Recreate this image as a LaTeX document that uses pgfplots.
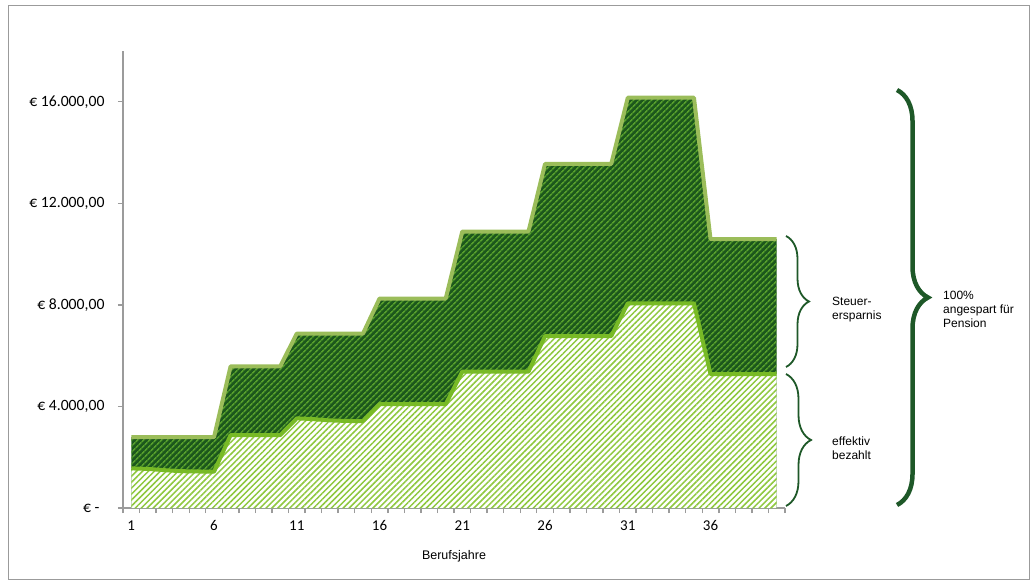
\documentclass[border=0pt]{standalone}
\usepackage{fontspec}
\setmainfont{Carlito}
\newfontfamily\arial{Liberation Sans}
\usepackage{pgfplots}
\usepackage{pgfplotstable}
\pgfplotsset{compat=1.18}
\usetikzlibrary{patterns.meta,decorations.pathreplacing}

\definecolor{axisgray}{RGB}{155,155,155}
\definecolor{darkfill}{RGB}{28,88,28}
\definecolor{darkhatch}{RGB}{86,158,44}
\definecolor{lighthatch}{RGB}{142,200,62}
\definecolor{midline}{RGB}{120,186,38}
\definecolor{topline}{RGB}{155,189,90}
\definecolor{bracegreen}{RGB}{30,88,40}

% Berufsjahr, Summe (100%), davon effektiv bezahlt
\pgfplotstableread{
year total paid
1  2790  1560
2  2790  1540
3  2790  1490
4  2790  1450
5  2790  1440
6  2790  1430
7  5580  2870
8  5580  2870
9  5580  2870
10 5580  2870
11 6870  3530
12 6870  3500
13 6870  3450
14 6870  3430
15 6870  3420
16 8250  4090
17 8250  4090
18 8250  4090
19 8250  4090
20 8250  4090
21 10890 5370
22 10890 5370
23 10890 5370
24 10890 5370
25 10890 5370
26 13550 6770
27 13550 6770
28 13550 6770
29 13550 6770
30 13550 6770
31 16160 8060
32 16160 8060
33 16160 8060
34 16160 8060
35 16160 8060
36 10590 5270
37 10590 5270
38 10590 5270
39 10590 5270
40 10590 5270
}\data

\begin{document}
\begin{tikzpicture}
\useasboundingbox (0,0) rectangle (1035pt,584pt);
\draw[axisgray, line width=1pt] (8pt,5pt) rectangle (1029pt,578pt);

\begin{axis}[
    scale only axis,
    width=662pt, height=457pt,
    at={(123pt,76pt)}, anchor=south west,
    xmin=0.5, xmax=40.5,
    ymin=0, ymax=18000,
    axis lines=left,
    axis line style={-, draw=axisgray, line width=1.6pt},
    tick align=outside,
    major tick length=5pt,
    tick style={draw=axisgray, line width=1.4pt},
    xtick={0.5,1.5,...,40.5},
    xticklabels={},
    extra x ticks={1,6,11,16,21,26,31,36},
    extra x tick style={tick style={draw=none}},
    /pgf/number format/assume math mode=true,
    xticklabel style={font=\fontsize{15}{17}\selectfont, yshift=-4pt},
    scaled y ticks=false,
    ytick={0,4000,8000,12000,16000},
    yticklabels={{€ -\hspace*{5pt}},{€ 4.000,00},{€ 8.000,00},{€ 12.000,00},{€ 16.000,00}},
    yticklabel style={font=\fontsize{15.7}{18}\selectfont, anchor=east, xshift=-10pt},
    xlabel={Berufsjahre},
    every axis x label/.style={at={(axis description cs:0.5,0)}, anchor=base, yshift=-51.3pt, font=\arial\fontsize{12.5}{14}\selectfont},
    clip=false,
]
% Gesamtflaeche (Steuerersparnis + effektiv bezahlt)
\addplot[draw=none, fill=darkfill] table[x=year, y=total] {\data} \closedcycle;
\addplot[draw=none, pattern={Lines[angle=45, distance=4pt, line width=1.7pt]}, pattern color=darkhatch] table[x=year, y=total] {\data} \closedcycle;
% effektiv bezahlt
\addplot[draw=none, fill=white] table[x=year, y=paid] {\data} \closedcycle;
\addplot[draw=none, pattern={Lines[angle=45, distance=4.2pt, line width=1.5pt]}, pattern color=lighthatch] table[x=year, y=paid] {\data} \closedcycle;
% Randlinien
\addplot[midline, line width=4pt, line join=round] table[x=year, y=paid] {\data};
\addplot[topline, line width=4pt, line join=round] table[x=year, y=total] {\data};
\end{axis}

% Klammern
\draw[bracegreen, line width=1.8pt, decorate, decoration={brace, amplitude=23pt}] (786pt,348pt) -- (786pt,217pt);
\draw[bracegreen, line width=1.8pt, decorate, decoration={brace, amplitude=25pt}] (786pt,210pt) -- (786pt,78pt);
\draw[bracegreen, line width=4.5pt, decorate, decoration={brace, amplitude=31pt}] (897pt,494pt) -- (897pt,79pt);

\begin{scope}[every node/.style={anchor=base west, inner sep=0pt, font=\arial\fontsize{12}{14}\selectfont}]
\node at (832pt,278pt) {Steuer-};
\node at (832pt,264pt) {ersparnis};
\node at (832pt,138.5pt) {effektiv};
\node at (832pt,124.5pt) {bezahlt};
\node at (943pt,284.5pt) {100\%};
\node at (943pt,270.5pt) {angespart für};
\node at (943pt,256.5pt) {Pension};
\end{scope}
\end{tikzpicture}
\end{document}
